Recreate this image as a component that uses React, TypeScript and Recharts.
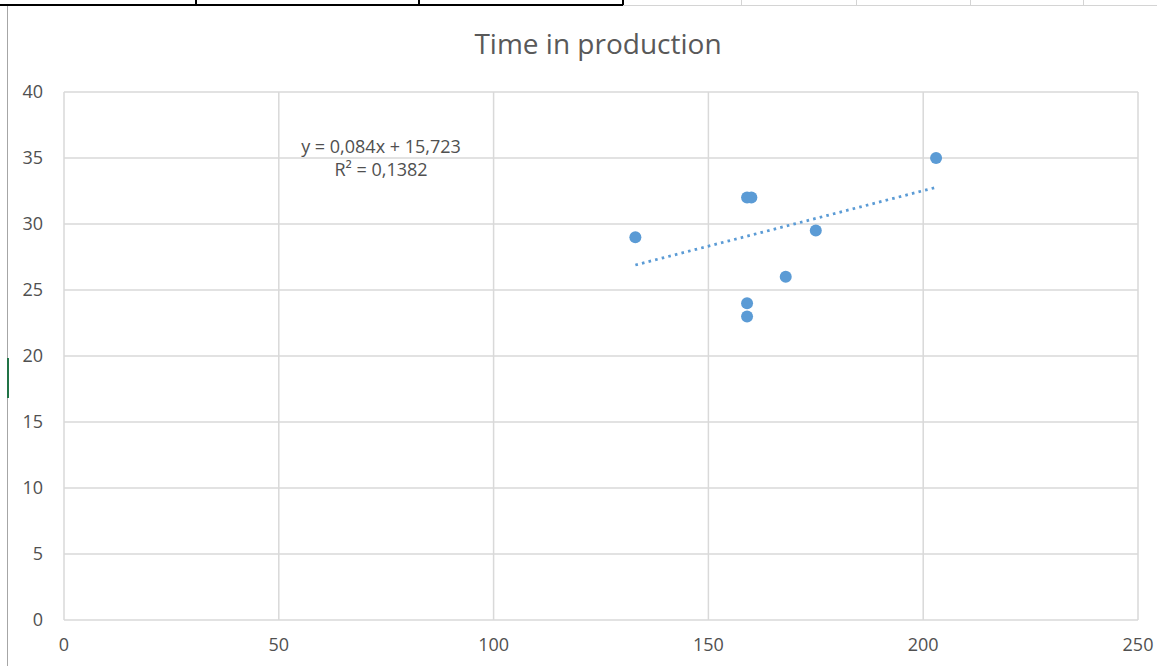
import React from 'react';
import { ScatterChart, Scatter, XAxis, YAxis, CartesianGrid } from 'recharts';

const daysInProduction = [133, 159, 160, 159, 159, 168, 175, 203];
const timeValues = [29, 32, 32, 24, 23, 26, 29.5, 35];
const xTicks = [0, 50, 100, 150, 200, 250];
const yTicks = [0, 5, 10, 15, 20, 25, 30, 35, 40];
const trendSlope = 0.084;
const trendIntercept = 15.723;
const trendRange = [133, 203];
const equationLines = ['y = 0,084x + 15,723', 'R² = 0,1382'];

const points = daysInProduction.map((x, i) => ({ x, y: timeValues[i] }));
const trend = trendRange.map((x) => ({ x, y: trendSlope * x + trendIntercept }));

const font = '"Open Sans", sans-serif';
const blue = '#5b9bd5';

const Dot = (props: any) => <circle cx={props.cx} cy={props.cy} r={6} fill={blue} />;

const App = () => {
  return (
    <div style={{ position: 'absolute', left: 0, top: 0, width: 1157, height: 666, background: '#fff', overflow: 'hidden', fontFamily: font }}>
      {/* spreadsheet bits around the chart */}
      <div style={{ position: 'absolute', left: 0, top: 4, width: 623, height: 2, background: '#000' }} />
      <div style={{ position: 'absolute', left: 623, top: 5, width: 534, height: 1, background: '#d4d4d4' }} />
      {[195, 418, 622].map((x) => (
        <div key={x} style={{ position: 'absolute', left: x, top: 0, width: 2, height: 5, background: '#000' }} />
      ))}
      {[741, 856, 970, 1083].map((x) => (
        <div key={x} style={{ position: 'absolute', left: x, top: 0, width: 1, height: 5, background: '#d4d4d4' }} />
      ))}
      <div style={{ position: 'absolute', left: 7, top: 6, width: 1, height: 660, background: '#a6a6a6' }} />
      <div style={{ position: 'absolute', left: 7, top: 358, width: 2, height: 40, background: '#217346' }} />

      <div style={{ position: 'absolute', left: 0, top: 24, width: 1196, textAlign: 'center', fontSize: 28, color: '#595959' }}>
        Time in production
      </div>

      <div style={{ position: 'absolute', left: 0, top: 0 }}>
        <ScatterChart width={1157} height={666} margin={{ top: 92, right: 19, bottom: 0, left: 14 }}>
          <CartesianGrid stroke="#d9d9d9" strokeWidth={1.5} />
          <XAxis
            type="number"
            dataKey="x"
            domain={[0, 250]}
            ticks={xTicks}
            height={46}
            axisLine={false}
            tickLine={false}
            tickSize={0}
            tickMargin={18}
            tick={{ fill: '#505050', fontSize: 18, fontFamily: font }}
          />
          <YAxis
            type="number"
            dataKey="y"
            domain={[0, 40]}
            ticks={yTicks}
            width={50}
            axisLine={false}
            tickLine={false}
            tickSize={0}
            tickMargin={21}
            tick={{ fill: '#505050', fontSize: 18, fontFamily: font }}
          />
          <Scatter data={points} shape={Dot} isAnimationActive={false} />
          <Scatter
            data={trend}
            line={{ stroke: blue, strokeWidth: 2.8, strokeDasharray: '2.6 4.2' }}
            lineType="joint"
            shape={() => <g />}
            isAnimationActive={false}
          />
        </ScatterChart>
      </div>

      <div style={{ position: 'absolute', left: 271, top: 135, width: 220, textAlign: 'center', fontSize: 18, lineHeight: '23px', color: '#505050' }}>
        {equationLines.map((l) => (
          <div key={l}>{l}</div>
        ))}
      </div>
    </div>
  );
};

export default App;
